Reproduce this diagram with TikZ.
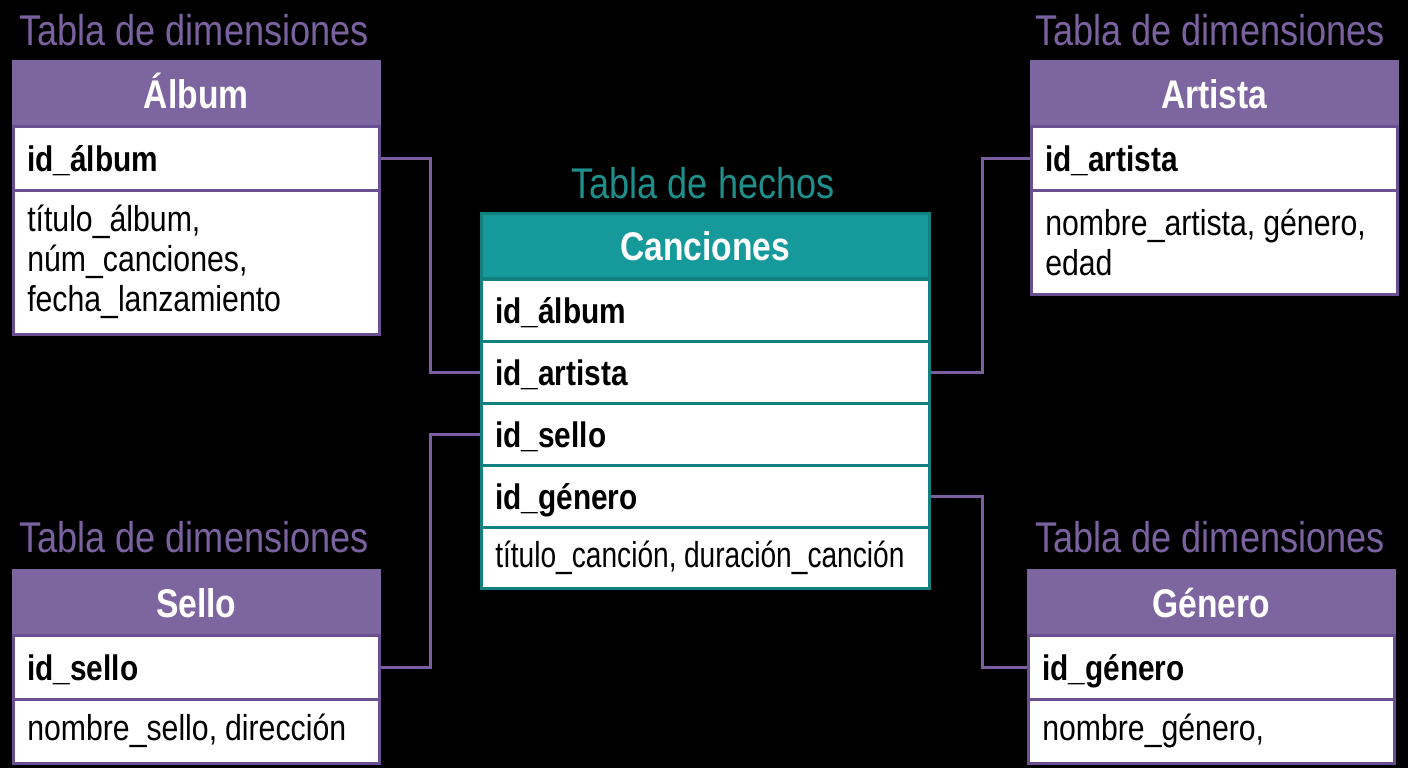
\documentclass[tikz,border=0pt]{standalone}
\usepackage{fontspec}
\setmainfont[FakeStretch=0.84]{Liberation Sans}
\definecolor{bgc}{HTML}{000000}
\definecolor{purh}{HTML}{7D65A0}
\definecolor{purb}{HTML}{6A5090}
\definecolor{purt}{HTML}{7A62A0}
\definecolor{purl}{HTML}{7A5E9E}
\definecolor{teah}{HTML}{15999A}
\definecolor{teab}{HTML}{11807F}
\definecolor{teat}{HTML}{1F8F8C}
\newcommand\cmsp{,\kern-4pt\ }
\tikzset{
  ttl/.style={font=\fontsize{43}{46}\selectfont, inner sep=0pt},
  hdrcell/.style={anchor=north west, minimum height=65pt, fill=#1, draw=#1, line width=2.5pt,
     font=\bfseries\fontsize{40}{44}\selectfont, text=white, inner sep=0pt, text height=29pt, text depth=0pt},
  rowcell/.style={anchor=north west, fill=white, draw=#1, line width=2.5pt,
     font=\bfseries\fontsize{35.5}{40}\selectfont, text=black, inner xsep=14pt, inner ysep=0pt, align=left,
     text height=26pt, text depth=0pt},
  attcell/.style={anchor=north west, fill=white, draw=#1, line width=2.5pt,
     font=\fontsize{36}{40}\selectfont, text=black, inner xsep=14pt, inner ysep=0pt, align=left},
  conn/.style={draw=purl, line width=2.5pt}
}
\begin{document}
\frenchspacing
\begin{tikzpicture}[x=1pt,y=-1pt]
\fill[bgc] (0,0) rectangle (1408,768);
\useasboundingbox (0,0) rectangle (1408,768);

% ---------- Album ----------
\node[ttl, text=purt, anchor=center] (talb) at (194,30) {Tabla de dimensiones};
\node[hdrcell=purh, minimum width=366pt] (alh) at (12,60) {Álbum};
\node[rowcell=purb, minimum width=366pt, minimum height=64pt, text width=338pt] (aid) at (12,125) {id\_álbum};
\node[attcell=purb, minimum width=366pt, minimum height=144pt, text width=338pt] (aat) at (12,189) {título\_álbum,\\núm\_canciones,\\fecha\_lanzamiento};

% ---------- Artista ----------
\node[ttl, text=purt, anchor=center] (tart) at (1210,30) {Tabla de dimensiones};
\node[hdrcell=purh, minimum width=366pt] (arh) at (1030,60) {Artista};
\node[rowcell=purb, minimum width=366pt, minimum height=64pt, text width=338pt] (arid) at (1030,125) {id\_artista};
\node[attcell=purb, minimum width=366pt, minimum height=104pt, text width=338pt] (arat) at (1030,189) {\mbox{nombre\_artista\cmsp género,}\\edad};

% ---------- Sello ----------
\node[ttl, text=purt, anchor=center] (tsel) at (194,537) {Tabla de dimensiones};
\node[hdrcell=purh, minimum width=366pt] (slh) at (12,569) {Sello};
\node[rowcell=purb, minimum width=366pt, minimum height=64pt, text width=338pt] (slid) at (12,634) {id\_sello};
\node[attcell=purb, minimum width=366pt, minimum height=64pt, text width=338pt] (slat) at (12,698) {\mbox{nombre\_sello\cmsp dirección}};

% ---------- Genero ----------
\node[ttl, text=purt, anchor=center] (tgen) at (1210,537) {Tabla de dimensiones};
\node[hdrcell=purh, minimum width=366pt] (gnh) at (1027,569) {Género};
\node[rowcell=purb, minimum width=366pt, minimum height=64pt, text width=338pt] (gnid) at (1027,634) {id\_género};
\node[attcell=purb, minimum width=366pt, minimum height=64pt, text width=338pt] (gnat) at (1027,698) {nombre\_género,};

% ---------- Canciones ----------
\node[ttl, text=teat, anchor=center] (tcan) at (703,183) {Tabla de hechos};
\node[hdrcell=teah, minimum width=448pt, draw=teab] (cah) at (480,212) {Canciones};
\node[rowcell=teab, minimum width=448pt, minimum height=62pt, text width=420pt] (calb) at (480,278) {id\_álbum};
\node[rowcell=teab, minimum width=448pt, minimum height=62pt, text width=420pt] (cart) at (480,340) {id\_artista};
\node[rowcell=teab, minimum width=448pt, minimum height=62pt, text width=420pt] (csel) at (480,402) {id\_sello};
\node[rowcell=teab, minimum width=448pt, minimum height=62pt, text width=420pt] (cgen) at (480,464) {id\_género};
\node[attcell=teab, minimum width=448pt, minimum height=61pt, text width=420pt] (catt) at (480,526) {\scalebox{0.93}[1]{título\_canción\cmsp duración\_canción}};

% connectors
\draw[conn] (aid.east) -- ++(50,0) |- (cart.west);
\draw[conn] (cart.east) -- ++(52,0) |- (arid.west);
\draw[conn] (slid.east) -- ++(50,0) |- (csel.west);
\draw[conn] (cgen.east) -- ++(52,0) |- (gnid.west);
\end{tikzpicture}
\end{document}
